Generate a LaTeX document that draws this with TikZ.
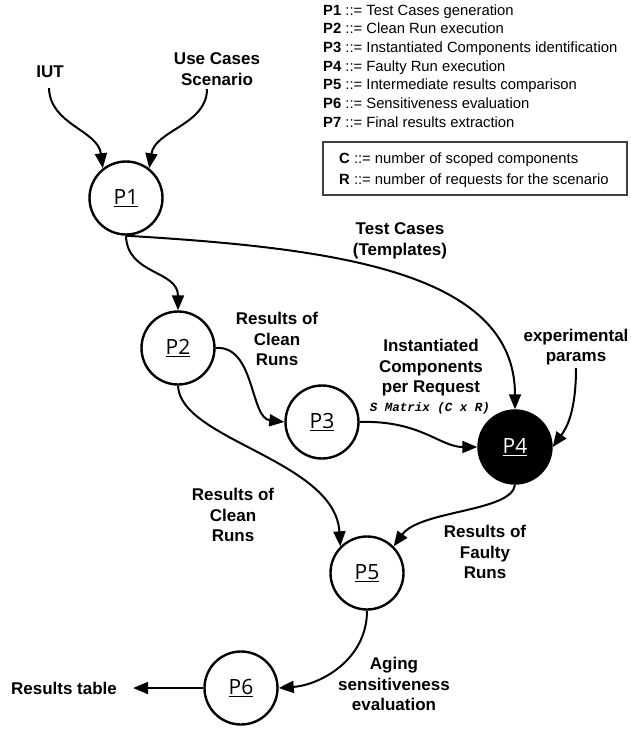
\documentclass[tikz,border=0pt]{standalone}
\usepackage{fontspec}
\setmainfont{Liberation Sans}
\newfontfamily\nodefont{Open Sans}
\newfontfamily\codefont{Liberation Mono}
\usetikzlibrary{arrows.meta}
\tikzset{
  proc/.style={circle,draw,line width=2.4pt,minimum size=73pt,inner sep=0pt,
    font=\nodefont\fontsize{21}{24}\selectfont},
  lbl/.style={align=center,inner sep=0pt,font=\bfseries\fontsize{17}{20.5}\selectfont},
  leg/.style={anchor=base west,inner sep=0pt,font=\fontsize{14.8}{17}\selectfont},
  flow/.style={line width=2pt,-{Triangle[length=15pt,width=12pt]}},
}
\begin{document}
\begin{tikzpicture}[x=1pt,y=-1pt]
\useasboundingbox (0,0) rectangle (631,729);
% legend
\node[leg] (l1) at (323,15) {\textbf{P1} ::= Test Cases generation};
\node[leg] (l2) at (323,33.7) {\textbf{P2} ::= Clean Run execution};
\node[leg] (l3) at (323,52.4) {\textbf{P3} ::= Instantiated Components identification};
\node[leg] (l4) at (323,71.1) {\textbf{P4} ::= Faulty Run execution};
\node[leg] (l5) at (323,89.8) {\textbf{P5} ::= Intermediate results comparison};
\node[leg] (l6) at (323,108.5) {\textbf{P6} ::= Sensitiveness evaluation};
\node[leg] (l7) at (323,127.2) {\textbf{P7} ::= Final results extraction};
\draw[line width=2pt,draw=black!75] (323,142) rectangle (627,195);
\node[leg] (lc) at (339,163) {\textbf{C} ::= number of scoped components};
\node[leg] (lr) at (339,184) {\textbf{R} ::= number of requests for the scenario};
% processes
\node[proc] (P1) at (126,198) {\underline{P1}};
\node[proc] (P2) at (178,348) {\underline{P2}};
\node[proc] (P3) at (322,422) {\underline{P3}};
\node[proc,fill=black,text=white] (P4) at (515,447) {\underline{P4}};
\node[proc] (P5) at (367,573) {\underline{P5}};
\node[proc] (P6) at (241,688) {\underline{P6}};
% labels
\node[lbl] (iut) at (50,72) {IUT};
\node[lbl] (ucs) at (217,69) {Use Cases\\Scenario};
\node[lbl] (tc) at (400,241) {Test Cases\\(Templates)};
\node[lbl] (rc1) at (277,339) {Results of\\Clean\\Runs};
\node[lbl] (icr) at (431,368) {Instantiated\\Components\\per Request};
\node[inner sep=0pt,font=\codefont\bfseries\itshape\fontsize{12.5}{15}\selectfont] (sm) at (430,408) {S Matrix (C x R)};
\node[lbl] (exp) at (576,347) {experimental\\params};
\node[lbl] (rc2) at (233,515) {Results of\\Clean\\Runs};
\node[lbl] (rf) at (485,552) {Results of\\Faulty\\Runs};
\node[lbl] (age) at (394,684) {Aging\\sensitiveness\\evaluation};
\node[lbl] (rt) at (64,688) {Results table};
% connectors
\coordinate (iutS) at (49,88);
\coordinate (ucsS) at (207,89);
\coordinate (expS) at (576,368);
\draw[flow] (iutS) .. controls (50,125) and (98,130) .. (P1.128);
\draw[flow] (ucsS) .. controls (207,125) and (155,130) .. (P1.52);
\draw[flow] (P1.south) .. controls (127,275) and (178,270) .. (P2.north);
\draw[flow] (P1.south) .. controls (330,248) and (515,270) .. (P4.north);
\draw[flow] (P2.east) .. controls (255,345) and (250,418) .. (P3.west);
\draw[flow] (P3.east) .. controls (420,420) and (440,447) .. (P4.west);
\draw[flow] (expS) .. controls (576,415) and (565,430) .. (P4.east);
\draw[flow] (P2.south) .. controls (180,440) and (335,460) .. (P5.135);
\draw[flow] (P4.south) .. controls (512,512) and (420,510) .. (P5.45);
\draw[flow] (P5.south) .. controls (367,660) and (320,685) .. (P6.east);
\draw[flow] (P6.west) -- ([xshift=16pt]rt.east);
\end{tikzpicture}
\end{document}
